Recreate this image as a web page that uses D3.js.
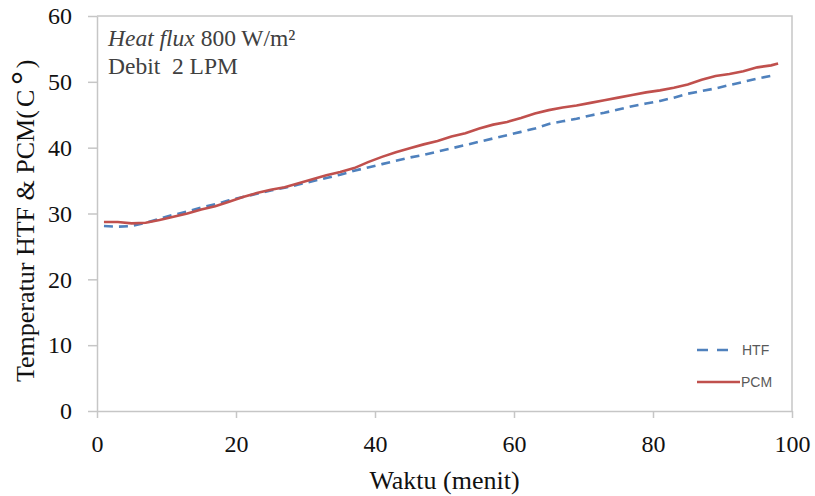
<!DOCTYPE html>
<html>
<head>
<meta charset="utf-8">
<script src="https://cdn.jsdelivr.net/npm/d3@7"></script>
<style>
	body { margin: 0; background: #fff; }
	svg { display: block; }
</style>
</head>
<body>
<div id="chart"></div>
<script>
// data (minutes, °C)
const timeHTF = [1, 3, 5, 7, 9, 11, 13, 15, 17, 19, 21, 23, 25, 27, 29, 31, 33, 35, 37, 39, 41, 43, 45, 47, 49,
	51, 53, 55, 57, 59, 61, 63, 65, 67, 69, 71, 73, 75, 77, 79, 81, 83, 85, 87, 89, 91, 93, 95, 97];
const tempHTF = [28.1, 28.0, 28.1, 28.6, 29.2, 29.8, 30.3, 30.9, 31.4, 32.0, 32.5, 33.0, 33.5, 33.9, 34.4, 34.9,
	35.4, 35.9, 36.5, 37.0, 37.5, 38.0, 38.5, 38.9, 39.4, 39.9, 40.4, 40.9, 41.4, 41.9, 42.4, 42.9, 43.6, 44.0,
	44.4, 44.9, 45.3, 45.8, 46.3, 46.7, 47.1, 47.6, 48.2, 48.6, 49.0, 49.5, 50.0, 50.5, 50.9];

const timePCM = [1, 3, 5, 7, 9, 11, 13, 15, 17, 19, 21, 23, 25, 27, 29, 31, 33, 35, 37, 39, 41, 43, 45, 47, 49,
	51, 53, 55, 57, 59, 61, 63, 65, 67, 69, 71, 73, 75, 77, 79, 81, 83, 85, 87, 89, 91, 93, 95, 97, 98];
const tempPCM = [28.7, 28.7, 28.5, 28.6, 29.0, 29.5, 30.0, 30.6, 31.1, 31.8, 32.5, 33.1, 33.6, 34.0, 34.6, 35.2,
	35.8, 36.3, 36.9, 37.8, 38.6, 39.3, 39.9, 40.5, 41.0, 41.7, 42.2, 42.9, 43.5, 43.9, 44.5, 45.2, 45.7, 46.1,
	46.4, 46.8, 47.2, 47.6, 48.0, 48.4, 48.7, 49.1, 49.6, 50.3, 50.9, 51.2, 51.6, 52.2, 52.5, 52.8];

const xTicks = [0, 20, 40, 60, 80, 100];
const yTicks = [0, 10, 20, 30, 40, 50, 60];
const seriesNames = ["HTF", "PCM"];

const svgWidth = 815;
const svgHeight = 496;

const margin = {
	top: 16,
	right: 23,
	bottom: 85,
	left: 97,
};

const serif = "'Liberation Serif', 'Times New Roman', serif";
const axisGray = "#c6c6c6";
const colors = { HTF: "#4F81BD", PCM: "#C0504D" };

const svg = d3
	.select("#chart")
	.append("svg")
	.attr("width", svgWidth)
	.attr("height", svgHeight);

const xScale = d3
	.scaleLinear()
	.domain([0, 100])
	.range([margin.left, svgWidth - margin.right]);

const yScale = d3
	.scaleLinear()
	.domain([0, 60])
	.range([svgHeight - margin.bottom, margin.top]);

// frame on top and right
svg.append("path")
	.attr("d", `M${xScale(0)},${yScale(60)}H${xScale(100)}V${yScale(0)}`)
	.attr("fill", "none")
	.attr("stroke", axisGray)
	.attr("stroke-width", 1.5);

// axes
const yAxis = svg
	.append("g")
	.attr("transform", `translate(${margin.left} 0)`)
	.call(d3.axisLeft(yScale).tickValues(yTicks).tickSize(9).tickSizeOuter(0).tickPadding(16));

const xAxis = svg
	.append("g")
	.attr("transform", `translate(0 ${svgHeight - margin.bottom})`)
	.call(d3.axisBottom(xScale).tickValues(xTicks).tickSize(7).tickSizeOuter(0).tickPadding(17));

[xAxis, yAxis].forEach((ax) => {
	ax.select(".domain").attr("stroke", axisGray).attr("stroke-width", 1.5);
	ax.selectAll(".tick line").attr("stroke", axisGray).attr("stroke-width", 1.5);
	ax.selectAll(".tick text")
		.attr("fill", "#111")
		.style("font-family", serif)
		.style("font-size", "24px");
});

// lines
const line = d3
	.line()
	.x((d) => xScale(d[0]))
	.y((d) => yScale(d[1]));

const htfData = timeHTF.map((t, i) => [t, tempHTF[i]]);
const pcmData = timePCM.map((t, i) => [t, tempPCM[i]]);

svg.append("path")
	.datum(htfData)
	.attr("d", line)
	.attr("fill", "none")
	.attr("stroke", colors.HTF)
	.attr("stroke-width", 2.6)
	.attr("stroke-dasharray", "9,6");

svg.append("path")
	.datum(pcmData)
	.attr("d", line)
	.attr("fill", "none")
	.attr("stroke", colors.PCM)
	.attr("stroke-width", 2.6);

// axis titles
svg.append("text")
	.attr("x", (xScale(0) + xScale(100)) / 2)
	.attr("y", 489)
	.attr("text-anchor", "middle")
	.style("font-family", serif)
	.style("font-size", "26px")
	.attr("fill", "#111")
	.text("Waktu (menit)");

const yTitle = svg
	.append("text")
	.attr("transform", "translate(34 382) rotate(-90)")
	.attr("text-anchor", "start")
	.style("font-family", serif)
	.style("font-size", "26px")
	.attr("fill", "#111")
	.text("Temperatur HTF & PCM");
yTitle.append("tspan").attr("letter-spacing", "3px").text("(C");
yTitle.append("tspan").style("font-size", "34px").style("font-weight", "bold").attr("dx", 2).text("°");
yTitle.append("tspan").attr("dx", 3).text(")");

// annotation
const note = svg
	.append("g")
	.style("font-family", serif)
	.style("font-size", "23.5px")
	.attr("fill", "#404040");

const line1 = note.append("text").attr("x", 108).attr("y", 46);
line1.append("tspan").style("font-style", "italic").text("Heat flux");
line1.append("tspan").text(" 800 W/m²");

note.append("text").attr("x", 108).attr("y", 74).attr("xml:space", "preserve").text("Debit\u00a0 2 LPM");

// legend
const legend = svg.append("g").attr("transform", "translate(697, 350)");

seriesNames.forEach((name, i) => {
	const row = legend.append("g").attr("transform", `translate(0, ${i * 32})`);

	row.append("line")
		.attr("x1", 0)
		.attr("x2", name === "HTF" ? 31 : 43)
		.attr("stroke", colors[name])
		.attr("stroke-width", 2.6)
		.attr("stroke-dasharray", name === "HTF" ? "11,9" : null);

	row.append("text")
		.attr("x", name === "HTF" ? 45 : 44)
		.attr("y", 5)
		.style("font-family", "'Liberation Sans', Arial, sans-serif")
		.style("font-size", "14px")
		.attr("fill", "#595959")
		.text(name);
});
</script>
</body>
</html>
